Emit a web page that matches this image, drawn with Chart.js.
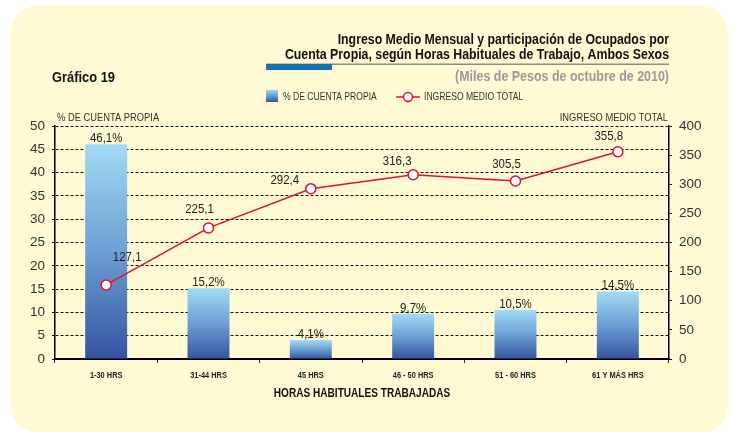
<!DOCTYPE html>
<html>
<head>
<meta charset="utf-8">
<script src="https://cdn.jsdelivr.net/npm/chart.js@4/dist/chart.umd.min.js"></script>
<style>
  body { margin: 0; background: #fff; }
  canvas { display: block; }
</style>
</head>
<body>
<canvas id="chart" width="733" height="432"></canvas>
<script>
const categories = ['1-30 HRS', '31-44 HRS', '45 HRS', '46 - 50 HRS', '51 - 60 HRS', '61 Y MÁS HRS'];
const cuentaPropia = [46.1, 15.2, 4.1, 9.7, 10.5, 14.5];
const ingresoMedio = [127.1, 225.1, 292.4, 316.3, 305.5, 355.8];
const leftTicks = [0, 50, 5];
const rightTicks = [0, 400, 50];

const FONT = "'Liberation Sans', Arial, sans-serif";
const CREAM = '#fffad3';
const RED = '#e3102f';

function fmt(v) {
    return v.toFixed(1).replace('.', ',');
}

// text squeezed horizontally, to get close to the condensed face of the original
function cText(ctx, text, x, y, sx) {
    ctx.save();
    ctx.translate(x, y);
    ctx.scale(sx, 1);
    ctx.fillText(text, 0, 0);
    ctx.restore();
}

function barGradient(c) {
    const chart = c.chart;
    if (!chart.chartArea || c.type !== 'data') return '#6a9bd0';
    const top = chart.scales.y.getPixelForValue(c.raw);
    const bottom = chart.scales.y.getPixelForValue(0);
    const g = chart.ctx.createLinearGradient(0, top, 0, bottom);
    g.addColorStop(0, '#a2dbf5');
    g.addColorStop(0.5, '#6c9fd3');
    g.addColorStop(1, '#3553a0');
    return g;
}

const backdrop = {
    id: 'backdrop',
    beforeDraw(chart) {
        const ctx = chart.ctx;
        ctx.save();
        ctx.fillStyle = '#fff';
        ctx.fillRect(0, 0, chart.width, chart.height);
        ctx.fillStyle = CREAM;
        ctx.beginPath();
        ctx.roundRect(11, 5, 717, 428, 28);
        ctx.fill();
        ctx.restore();
    },
    afterDraw(chart) {
        const ctx = chart.ctx;
        const a = chart.chartArea;
        ctx.save();
        // title
        ctx.fillStyle = '#111';
        ctx.font = 'bold 14px ' + FONT;
        ctx.textAlign = 'right';
        ctx.textBaseline = 'alphabetic';
        cText(ctx, 'Ingreso Medio Mensual y participación de Ocupados por', 669, 44, 0.88);
        cText(ctx, 'Cuenta Propia, según Horas Habituales de Trabajo, Ambos Sexos', 669, 59, 0.88);
        // rule under title
        ctx.fillStyle = '#8c8c8c';
        ctx.fillRect(266, 63.5, 403, 1.5);
        ctx.fillStyle = '#1570b4';
        ctx.fillRect(266, 64, 66, 6);
        // subtitle
        ctx.fillStyle = '#9a9a9a';
        ctx.font = 'bold 14px ' + FONT;
        cText(ctx, '(Miles de Pesos de octubre de 2010)', 669, 81, 0.89);
        ctx.textAlign = 'left';
        ctx.fillStyle = '#111';
        cText(ctx, 'Gráfico 19', 52, 82, 0.92);
        // legend
        const g = ctx.createLinearGradient(0, 90, 0, 102);
        g.addColorStop(0, '#a2dbf5');
        g.addColorStop(1, '#3553a0');
        ctx.fillStyle = g;
        ctx.fillRect(266, 90, 12, 12);
        ctx.fillStyle = '#333';
        ctx.font = '11px ' + FONT;
        ctx.textBaseline = 'middle';
        cText(ctx, '% DE CUENTA PROPIA', 283, 97, 0.78);
        ctx.strokeStyle = RED;
        ctx.lineWidth = 1.5;
        ctx.beginPath();
        ctx.moveTo(396, 97);
        ctx.lineTo(420, 97);
        ctx.stroke();
        ctx.fillStyle = '#fff';
        ctx.beginPath();
        ctx.arc(408, 97, 4.5, 0, Math.PI * 2);
        ctx.fill();
        ctx.stroke();
        ctx.fillStyle = '#333';
        cText(ctx, 'INGRESO MEDIO TOTAL', 424, 97, 0.78);
        // axis titles
        ctx.textBaseline = 'alphabetic';
        cText(ctx, '% DE CUENTA PROPIA', 57, 121, 0.85);
        ctx.textAlign = 'right';
        cText(ctx, 'INGRESO MEDIO TOTAL', 668, 121, 0.85);
        // category labels
        const xs = chart.scales.x;
        ctx.textAlign = 'center';
        ctx.textBaseline = 'middle';
        ctx.fillStyle = '#222';
        ctx.font = 'bold 9.5px ' + FONT;
        categories.forEach((c, i) => cText(ctx, c, xs.getPixelForTick(i), a.bottom + 16, 0.78));
        ctx.fillStyle = '#111';
        ctx.font = 'bold 12px ' + FONT;
        ctx.textBaseline = 'alphabetic';
        cText(ctx, 'HORAS HABITUALES TRABAJADAS', (a.left + a.right) / 2, 397, 0.84);
        ctx.restore();
    }
};

const valueLabels = {
    id: 'valueLabels',
    afterDatasetsDraw(chart, args, opts) {
        const ctx = chart.ctx;
        ctx.save();
        ctx.fillStyle = '#222';
        ctx.font = '13.5px ' + FONT;
        ctx.textAlign = 'center';
        ctx.textBaseline = 'alphabetic';
        chart.getDatasetMeta(1).data.forEach((bar, i) => {
            cText(ctx, fmt(cuentaPropia[i]) + '%', bar.x, bar.y - 2, 0.85);
        });
        ctx.textBaseline = 'middle';
        chart.getDatasetMeta(0).data.forEach((pt, i) => {
            const off = opts.offsets[i];
            cText(ctx, fmt(ingresoMedio[i]), pt.x + off[0], pt.y + off[1], 0.85);
        });
        ctx.restore();
    }
};

const ctx = document.getElementById('chart').getContext('2d');
new Chart(ctx, {
    type: 'bar',
    data: {
        labels: categories,
        datasets: [{
            type: 'line',
            label: 'INGRESO MEDIO TOTAL',
            data: ingresoMedio,
            yAxisID: 'y1',
            order: 0,
            borderColor: RED,
            borderWidth: 1.5,
            pointRadius: 5,
            pointBorderWidth: 1.5,
            pointBackgroundColor: '#fff',
            pointBorderColor: RED,
            tension: 0
        }, {
            type: 'bar',
            label: '% DE CUENTA PROPIA',
            data: cuentaPropia,
            yAxisID: 'y',
            order: 1,
            backgroundColor: barGradient,
            barPercentage: 0.41,
            categoryPercentage: 1
        }]
    },
    options: {
        responsive: false,
        animation: false,
        layout: { padding: { top: 126, left: 0, right: 0, bottom: 0 } },
        plugins: {
            legend: { display: false },
            tooltip: { enabled: false },
            valueLabels: {
                offsets: [[21, -28], [-9, -19], [-26, -8], [-16, -13], [-9, -17], [-9, -15]]
            }
        },
        scales: {
            x: {
                afterFit(s) { s.height = 73; },
                grid: { display: true, drawOnChartArea: false, color: '#333', tickLength: 4, lineWidth: 1 },
                border: { display: true, color: '#000', width: 2 },
                ticks: { display: false }
            },
            y: {
                position: 'left',
                min: leftTicks[0],
                max: leftTicks[1],
                afterFit(s) { s.width = 55; },
                ticks: { stepSize: leftTicks[2], color: '#333', font: { family: FONT, size: 13.5 }, padding: 7 },
                grid: { color: '#111', lineWidth: 1, tickLength: 3, tickColor: '#111' },
                border: { display: true, color: '#000', width: 1.5, dash: [3, 2] }
            },
            y1: {
                position: 'right',
                min: rightTicks[0],
                max: rightTicks[1],
                afterFit(s) { s.width = 64; },
                ticks: { stepSize: rightTicks[2], color: '#333', font: { family: FONT, size: 13.5 }, padding: 7 },
                grid: { drawOnChartArea: false, color: '#111', tickLength: 3 },
                border: { display: true, color: '#000', width: 1.5 }
            }
        }
    },
    plugins: [backdrop, valueLabels]
});
</script>
</body>
</html>
